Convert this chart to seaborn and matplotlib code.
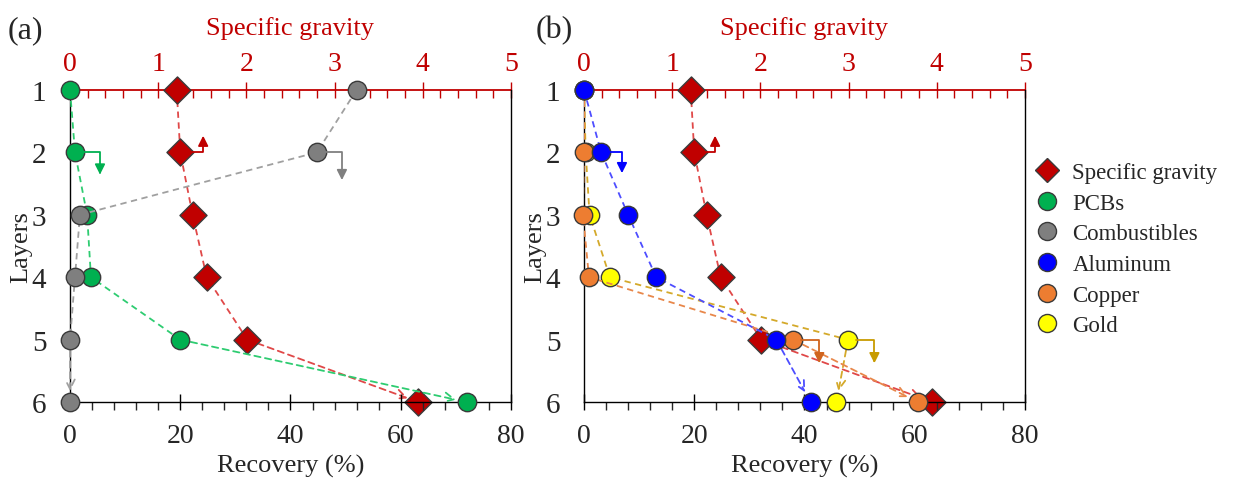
import numpy as np
import pandas as pd
import matplotlib
matplotlib.use("Agg")
import matplotlib.pyplot as plt
from matplotlib.lines import Line2D
from matplotlib.transforms import offset_copy
from matplotlib.ticker import MultipleLocator
import seaborn as sns

# ---------------- data ----------------
layers = [1, 2, 3, 4, 5, 6]
specific_gravity = [1.21, 1.25, 1.39, 1.55, 2.01, 3.95]
pcbs = [0.0, 0.9, 3.1, 3.8, 20.0, 72.0]
combustibles = [52.0, 44.8, 1.8, 0.9, 0.0, 0.0]
aluminum = [0.0, 3.1, 8.0, 13.1, 34.9, 41.1]
copper = [0.0, 0.0, -0.2, 0.9, 37.9, 60.6]
gold = [0.0, 0.3, 1.0, 4.7, 47.9, 45.8]
recovery_ticks = [0, 20, 40, 60, 80]
sg_ticks = [0, 1, 2, 3, 4, 5]
legend_labels = ["Specific gravity", "PCBs", "Combustibles", "Aluminum", "Copper", "Gold"]

sns.set_style("ticks")
plt.rcParams["font.family"] = ["Liberation Serif", "DejaVu Serif"]

RED = "#C00000"
COL = {
    "PCBs": ("#00B050", "#2ECC71", "#00B050"),
    "Combustibles": ("#7F7F7F", "#A0A0A0", "#808080"),
    "Aluminum": ("#0000FF", "#4D4DFF", "#0000FF"),
    "Copper": ("#ED7D31", "#E8874A", "#D0641E"),
    "Gold": ("#FFFF00", "#D4A92A", "#C89B00"),
    "SG": (RED, "#E04848", RED),
}
EDGE = "#3A3A3A"
TICK_FS = 20
LABEL_FS = 19

fig = plt.figure(figsize=(12.35, 4.81), dpi=100)
axA = fig.add_axes([0.0567, 0.162, 0.357, 0.649])
axB = fig.add_axes([0.4729, 0.162, 0.357, 0.649])


def setup(ax):
    ax.set_xlim(0, 80)
    ax.set_ylim(6, 1)
    ax.set_xticks(recovery_ticks)
    ax.xaxis.set_minor_locator(MultipleLocator(4))
    ax.set_yticks(layers)
    ax.tick_params(axis="x", which="major", direction="inout", length=12, width=1.0,
                   labelsize=TICK_FS, pad=9, color="black")
    ax.tick_params(axis="x", which="minor", direction="out", length=6, width=1.0)
    ax.tick_params(axis="y", which="both", length=0, labelsize=21, pad=17)
    ax.spines["top"].set_visible(False)
    for s in ["left", "right", "bottom"]:
        ax.spines[s].set_color("black")
        ax.spines[s].set_linewidth(1.0)
    ax.patch.set_visible(False)
    top = ax.twiny()
    top.set_xlim(0, 5)
    top.set_xticks(sg_ticks)
    top.xaxis.set_minor_locator(MultipleLocator(0.2))
    top.tick_params(axis="x", which="major", direction="inout", length=12, width=1.0,
                    labelsize=TICK_FS, colors=RED, pad=4)
    top.tick_params(axis="x", which="minor", direction="in", length=6, width=1.0, color=RED)
    for s in ["left", "right", "bottom"]:
        top.spines[s].set_visible(False)
    top.spines["top"].set_color(RED)
    top.spines["top"].set_linewidth(1.3)
    top.set_xlabel("Specific gravity", fontsize=LABEL_FS, color=RED, labelpad=12)
    top.set_zorder(0)
    ax.set_zorder(1)
    return top


def series(ax, values, key, marker="o", size=175, z=3):
    mc, lc, _ = COL[key]
    df = pd.DataFrame({"x": values, "layer": layers})
    sns.lineplot(data=df.iloc[:5], x="x", y="layer", sort=False, estimator=None, ax=ax,
                 color=lc, lw=1.3, linestyle=(0, (3.5, 2.5)), zorder=z - 1)
    ax.annotate("", xy=(values[5], layers[5]), xytext=(values[4], layers[4]),
                arrowprops=dict(arrowstyle="->", linestyle=(0, (3.5, 2.5)), color=lc, lw=1.3,
                                shrinkA=0, shrinkB=8, mutation_scale=17), zorder=z - 1)
    sns.scatterplot(data=df, x="x", y="layer", ax=ax, color=mc, marker=marker, s=size,
                    edgecolor=EDGE, linewidth=1.0, clip_on=False, zorder=z, legend=False)


def step_arrow(ax, x, y, dx, dy, key):
    c = COL[key][2]
    ax.annotate("", xy=(x, y), xycoords=offset_copy(ax.transData, fig, x=dx, y=dy, units="points"),
                xytext=(x, y), textcoords=offset_copy(ax.transData, fig, x=6, y=0, units="points"),
                arrowprops=dict(arrowstyle="-|>", connectionstyle="angle,angleA=0,angleB=90,rad=0",
                                color=c, lw=1.3, shrinkA=0, shrinkB=0, mutation_scale=15),
                zorder=6, annotation_clip=False)


# ---------- panel (a) ----------
topA = setup(axA)
series(axA, pcbs, "PCBs", z=4)
series(axA, combustibles, "Combustibles", z=5)
series(topA, specific_gravity, "SG", marker="D", size=190, z=4)
step_arrow(axA, pcbs[1], layers[1], 18, -16, "PCBs")
step_arrow(axA, combustibles[1], layers[1], 18, -20, "Combustibles")
step_arrow(topA, specific_gravity[1], layers[1], 16.5, 12, "SG")

# ---------- panel (b) ----------
topB = setup(axB)
series(axB, gold, "Gold", z=4)
series(axB, copper, "Copper", z=5)
series(axB, aluminum, "Aluminum", z=6)
series(topB, specific_gravity, "SG", marker="D", size=190, z=4)
step_arrow(axB, aluminum[1], layers[1], 15, -15, "Aluminum")
step_arrow(axB, copper[4], layers[4], 19, -17, "Copper")
step_arrow(axB, gold[4], layers[4], 19, -17, "Gold")
step_arrow(topB, specific_gravity[1], layers[1], 15, 12, "SG")

for ax in (axA, axB):
    ax.set_xlabel("Recovery (%)", fontsize=LABEL_FS, labelpad=4)
    ax.set_ylabel("Layers", fontsize=LABEL_FS, labelpad=0)

fig.text(0.006, 0.92, "(a)", fontsize=23)
fig.text(0.434, 0.92, "(b)", fontsize=23)

# ---------- legend ----------
keys = ["SG", "PCBs", "Combustibles", "Aluminum", "Copper", "Gold"]
handles = []
for k in keys:
    handles.append(Line2D([], [], linestyle="none", marker="D" if k == "SG" else "o",
                          markersize=12 if k == "SG" else 13, markerfacecolor=COL[k][0],
                          markeredgecolor=EDGE, markeredgewidth=1.0))
fig.legend(handles, legend_labels, loc="center left", bbox_to_anchor=(0.822, 0.48),
           frameon=False, fontsize=16.5, handlelength=1.0, handletextpad=0.6, labelspacing=0.42)

fig.savefig("out.png", dpi=100)
